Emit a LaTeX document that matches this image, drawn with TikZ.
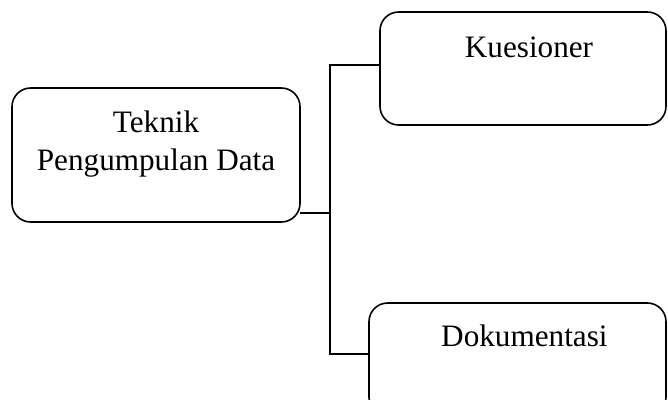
\documentclass[tikz,border=0pt]{standalone}
\usepackage{fontspec}
\setmainfont{Liberation Serif}
\usetikzlibrary{positioning}

\begin{document}
\begin{tikzpicture}[
  x=0.75pt, y=-0.75pt,
  box/.style={
    rectangle, rounded corners=14pt,
    draw=black, line width=1.2pt,
    inner sep=0pt, outer sep=0pt
  },
  lbl/.style={
    font=\fontsize{23.4}{28.5}\selectfont,
    align=center, inner sep=0pt, anchor=base
  },
  line/.style={line width=0.9pt, color=black}
]
  \clip (0,0) rectangle (668,400);

  % Boxes
  \node[box, minimum width=216pt, minimum height=100.5pt,
    label={[lbl, yshift=-61.5pt]north:Teknik\\Pengumpulan Data}] (teknik) at (156,155) {};
  \node[box, minimum width=214.5pt, minimum height=84.75pt,
    label={[lbl, xshift=4.5pt, yshift=-34pt]north:Kuesioner}] (kues) at (523,68.5) {};
  \node[box, minimum width=222.75pt, minimum height=84.75pt,
    label={[lbl, xshift=5.2pt, yshift=-32.3pt]north:Dokumentasi}] (doku) at (517.5,359.5) {};

  % Trunk
  \coordinate (hub) at (330,213);
  \coordinate (trunktop) at (330,65);
  \coordinate (trunkbot) at (330,354);

  % Lines
  \draw[line] (teknik.east |- hub) -- (hub);
  \draw[line] (kues.west |- trunktop) -- (trunktop) -- (trunkbot) -- (doku.west |- trunkbot);
\end{tikzpicture}
\end{document}
